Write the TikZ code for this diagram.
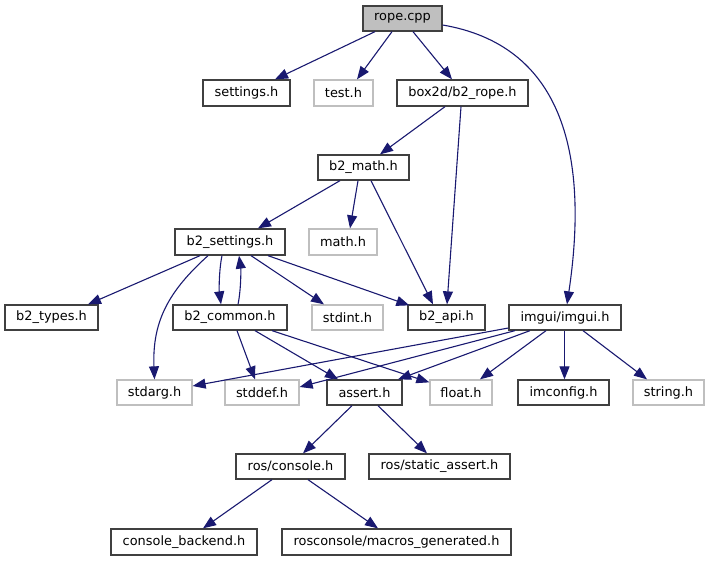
\documentclass[tikz,border=0pt]{standalone}
\usepackage{fontspec}
\setmainfont{DejaVu Sans}
\usetikzlibrary{arrows.meta}
\definecolor{edgec}{HTML}{191970}
\definecolor{darkb}{HTML}{404040}
\definecolor{lightb}{HTML}{BFBFBF}
\tikzset{
  box/.style={draw=darkb, line width=1.3pt, fill=white, inner sep=0pt, font=\fontsize{12.9}{14}\selectfont},
  gbox/.style={box, draw=lightb},
  rootbox/.style={box, fill=lightb},
  dep/.style={draw=edgec, line width=1.1pt, -{Triangle[length=13pt,width=10pt]}, color=edgec},
}
\begin{document}
\begin{tikzpicture}[x=1pt,y=-1pt]
\useasboundingbox (0,0) rectangle (710,560);
\node[rootbox, minimum width=79pt, minimum height=25pt] (rope) at (402.5,18.5) {rope.cpp};
\node[box, minimum width=87pt, minimum height=26pt] (settings) at (246.5,93) {settings.h};
\node[gbox, minimum width=59pt, minimum height=26pt] (test) at (343.5,93) {test.h};
\node[box, minimum width=131pt, minimum height=26pt] (b2rope) at (462.5,93) {box2d/b2\_rope.h};
\node[box, minimum width=91pt, minimum height=25pt] (b2math) at (363.5,167.5) {b2\_math.h};
\node[box, minimum width=110pt, minimum height=26pt] (b2settings) at (230,242) {b2\_settings.h};
\node[gbox, minimum width=68pt, minimum height=26pt] (mathh) at (343,242) {math.h};
\node[box, minimum width=93pt, minimum height=25pt] (b2types) at (51.5,317.5) {b2\_types.h};
\node[box, minimum width=114pt, minimum height=25pt] (b2common) at (230,317.5) {b2\_common.h};
\node[gbox, minimum width=71pt, minimum height=25pt] (stdint) at (347.5,317.5) {stdint.h};
\node[box, minimum width=77pt, minimum height=25pt] (b2api) at (446.5,317.5) {b2\_api.h};
\node[box, minimum width=112pt, minimum height=25pt] (imgui) at (565,317.5) {imgui/imgui.h};
\node[gbox, minimum width=75pt, minimum height=25pt] (stdarg) at (154.5,392.5) {stdarg.h};
\node[gbox, minimum width=74pt, minimum height=25pt] (stddef) at (262,392.5) {stddef.h};
\node[box, minimum width=75pt, minimum height=25pt] (assert) at (364.5,392.5) {assert.h};
\node[gbox, minimum width=62pt, minimum height=25pt] (float) at (461,392.5) {float.h};
\node[box, minimum width=91pt, minimum height=25pt] (imconfig) at (563.5,392.5) {imconfig.h};
\node[gbox, minimum width=71pt, minimum height=25pt] (string) at (668.5,392.5) {string.h};
\node[box, minimum width=109pt, minimum height=25pt] (console) at (290.5,466.5) {ros/console.h};
\node[box, minimum width=141pt, minimum height=25pt] (static) at (439.5,466.5) {ros/static\_assert.h};
\node[box, minimum width=146pt, minimum height=26pt] (backend) at (184,542) {console\_backend.h};
\node[box, minimum width=229pt, minimum height=26pt] (macros) at (396.5,542) {rosconsole/macros\_generated.h};

% rope.cpp
\draw[dep] ([xshift=-27.5pt]rope.south) -- ([xshift=28.5pt]settings.north);
\draw[dep] ([xshift=-10.5pt]rope.south) -- ([xshift=13.5pt]test.north);
\draw[dep] ([xshift=10.5pt]rope.south) -- ([xshift=-10.5pt]b2rope.north);
\draw[dep] ([yshift=-6.5pt]rope.east) .. controls (560,45) and (590,150) .. ([xshift=2pt]imgui.north);
% b2_rope
\draw[dep] ([xshift=-17.5pt]b2rope.south) -- ([xshift=16.5pt]b2math.north);
\draw[dep] ([xshift=-1.5pt]b2rope.south) -- ([xshift=0.5pt]b2api.north);
% b2_math
\draw[dep] ([xshift=-23.5pt]b2math.south) -- ([xshift=28pt]b2settings.north);
\draw[dep] ([xshift=-5.5pt]b2math.south) -- ([xshift=7pt]mathh.north);
\draw[dep] ([xshift=7.5pt]b2math.south) -- ([xshift=-13.5pt]b2api.north);
% b2_settings
\draw[dep] ([xshift=-30pt]b2settings.south) -- ([xshift=36.5pt]b2types.north);
\draw[dep] ([xshift=-22pt]b2settings.south) .. controls (170,290) and (152,320) .. (stdarg.north);
\draw[dep] ([xshift=-8pt]b2settings.south) .. controls (219,270) and (219,290) .. ([xshift=-9pt]b2common.north);
\draw[dep] ([xshift=8pt]b2common.north) .. controls (241,290) and (241,270) .. ([xshift=9pt]b2settings.south);
\draw[dep] ([xshift=21pt]b2settings.south) -- ([xshift=-23.5pt]stdint.north);
\draw[dep] ([xshift=38pt]b2settings.south) -- ([xshift=2pt,yshift=-1pt]b2api.north west);
% b2_common
\draw[dep] ([xshift=7pt]b2common.south) -- ([xshift=-7pt]stddef.north);
\draw[dep] ([xshift=25pt]b2common.south) -- ([xshift=-26.5pt]assert.north);
\draw[dep] ([xshift=42pt]b2common.south) -- ([yshift=-3pt]float.north west);
% imgui
\draw[dep] ([yshift=-10.5pt]imgui.west) -- ([yshift=6.5pt]stdarg.east);
\draw[dep] ([xshift=-50pt]imgui.south) -- ([yshift=5.5pt]stddef.east);
\draw[dep] ([xshift=-35pt]imgui.south) -- ([xshift=33.5pt]assert.north);
\draw[dep] ([xshift=-19pt]imgui.south) -- ([xshift=19pt]float.north);
\draw[dep] ([xshift=-0.5pt]imgui.south) -- ([xshift=1pt]imconfig.north);
\draw[dep] ([xshift=18pt]imgui.south) -- ([xshift=-21.5pt]string.north);
% assert
\draw[dep] ([xshift=-12.5pt]assert.south) -- ([xshift=12.5pt]console.north);
\draw[dep] ([xshift=13.5pt]assert.south) -- ([xshift=-12.5pt]static.north);
% console
\draw[dep] ([xshift=-18.5pt]console.south) -- ([xshift=19pt]backend.north);
\draw[dep] ([xshift=17.5pt]console.south) -- ([xshift=-18.5pt]macros.north);
\end{tikzpicture}
\end{document}
